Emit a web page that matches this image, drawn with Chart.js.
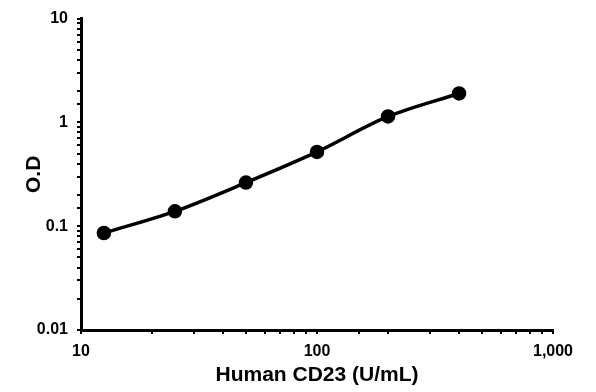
<!DOCTYPE html>
<html>
<head>
<meta charset="utf-8">
<script src="https://cdn.jsdelivr.net/npm/chart.js@4/dist/chart.umd.min.js"></script>
<style>
  html, body { margin: 0; padding: 0; background: #fff; }
  #wrap { width: 596px; height: 392px; }
</style>
</head>
<body>
<div id="wrap"><canvas id="myChart" width="596" height="392"></canvas></div>
<script>
// concentration (U/mL) and optical density
const conc = [12.5, 25, 50, 100, 200, 400];
const od = [0.086, 0.139, 0.263, 0.52, 1.14, 1.9];
const xTicks = [10, 100, 1000];
const yTicks = [0.01, 0.1, 1, 10];

const font = 'Arial, "Liberation Sans", sans-serif';

function isMajor(v, list) {
    return list.some(t => Math.abs(t - v) / t < 1e-6);
}

const ctx = document.getElementById('myChart');
const chart = new Chart(ctx, {
    type: 'line',
    data: {
        datasets: [{
            data: conc.map((c, i) => ({ x: c, y: od[i] })),
            borderColor: '#000',
            backgroundColor: '#000',
            borderWidth: 3.5,
            pointRadius: 5.5,
            pointHoverRadius: 5.5,
            tension: 0.3
        }]
    },
    options: {
        responsive: false,
        animation: false,
        layout: {
            padding: { left: 0, right: 43, top: 13, bottom: 0 }
        },
        plugins: {
            legend: { display: false },
            tooltip: { enabled: false }
        },
        scales: {
            x: {
                type: 'logarithmic',
                min: 10,
                max: 1000,
                border: { color: '#000', width: 3 },
                grid: { drawOnChartArea: false, drawTicks: true, tickLength: 4, color: '#000', lineWidth: 2 },
                ticks: {
                    color: '#000',
                    font: { family: font, size: 16, weight: 'bold' },
                    padding: 8,
                    maxRotation: 0,
                    autoSkip: false,
                    callback: v => isMajor(v, xTicks) ? v.toLocaleString('en-US') : ''
                },
                title: {
                    display: true,
                    text: 'Human CD23 (U/mL)',
                    color: '#000',
                    font: { family: font, size: 21, weight: 'bold' },
                    padding: { top: 4, bottom: 4 }
                },
                afterFit: s => { s.height = 62; }
            },
            y: {
                type: 'logarithmic',
                min: 0.01,
                max: 10,
                border: { color: '#000', width: 3 },
                grid: { drawOnChartArea: false, drawTicks: true, tickLength: 4, color: '#000', lineWidth: 2 },
                ticks: {
                    color: '#000',
                    font: { family: font, size: 16, weight: 'bold' },
                    padding: 9,
                    autoSkip: false,
                    callback: v => isMajor(v, yTicks) ? String(v) : ''
                },
                title: {
                    display: true,
                    text: 'O.D',
                    color: '#000',
                    font: { family: font, size: 21, weight: 'bold' },
                    padding: { top: 22, bottom: 0 }
                },
                afterFit: s => { s.width = 81; }
            }
        }
    }
});
</script>
</body>
</html>
